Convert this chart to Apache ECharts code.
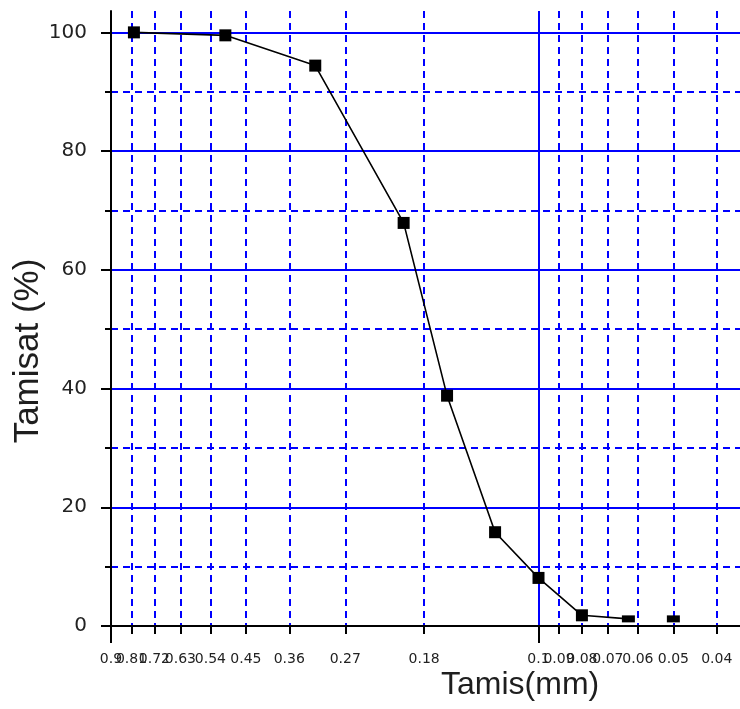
<!DOCTYPE html>
<html>
<head>
<meta charset="utf-8">
<title>Tamisat</title>
<script src="https://cdn.jsdelivr.net/npm/echarts@6/dist/echarts.min.js"></script>
<style>
  html, body { margin: 0; padding: 0; background: #fff; }
  #chart { width: 740px; height: 709px; }
</style>
</head>
<body>
<div id="chart"></div>
<script>
// Sieve openings (mm) and cumulative passing (%)
const sieveMm = [0.8, 0.5, 0.315, 0.2, 0.16, 0.125, 0.1, 0.08, 0.063, 0.05];
const passingPct = [100, 99.5, 94.4, 67.9, 38.8, 15.8, 8.1, 1.8, 1.2, 1.2];
// number of leading points joined by the curve
const curvePointCount = 9;

// x axis (log of opening, reversed): tick labels and major ticks
const xTickLabels = ['0.9', '0.81', '0.72', '0.63', '0.54', '0.45', '0.36', '0.27', '0.18',
                     '0.1', '0.09', '0.08', '0.07', '0.06', '0.05', '0.04'];
const xMajorLabels = ['0.9', '0.1'];
const xRangeMm = [0.0355, 0.9];

// y axis
const yTicks = [0, 20, 40, 60, 80, 100];
const yMax = 103.6;

const BLUE = '#0000ff';
const lg = v => Math.log10(v);
const xTickVals = xTickLabels.map(s => lg(Number(s)));
const xMajorVals = xMajorLabels.map(s => lg(Number(s)));
// alternate labels go on the two stacked x axes so that crowded neighbours all stay visible
const xLabelsA = xTickVals.filter((v, i) => i % 2 === 0);
const xLabelsB = xTickVals.filter((v, i) => i % 2 === 1);

const points = sieveMm.map((d, i) => [lg(d), passingPct[i]]);

const chart = echarts.init(document.getElementById('chart'), null, { renderer: 'canvas' });

const xLabelStyle = customValues => ({
  show: true,
  customValues: customValues,
  showMinLabel: true,
  showMaxLabel: true,
  hideOverlap: false,
  margin: 26,
  fontFamily: 'DejaVu Sans',
  fontSize: 14,
  color: '#222',
  formatter: v => {
    let best = '', bd = Infinity;
    xTickVals.forEach((t, i) => { const d = Math.abs(t - v); if (d < bd) { bd = d; best = xTickLabels[i]; } });
    return best;
  }
});

const xCommon = {
  type: 'value',
  inverse: true,
  min: lg(xRangeMm[0]),
  max: lg(xRangeMm[1]),
  position: 'bottom',
  gridIndex: 0
};

chart.setOption({
  animation: false,
  backgroundColor: '#ffffff',
  grid: { left: 111, right: 0, top: 11, bottom: 83, containLabel: false },
  title: {
    text: 'Tamis(mm)',
    left: 441,
    top: 669,
    padding: 0,
    textStyle: { fontFamily: 'Liberation Sans', fontSize: 32, fontWeight: 'normal', color: '#1e1e1e' }
  },
  graphic: [{
    type: 'text',
    x: 28,
    y: 351,
    rotation: Math.PI / 2,
    style: {
      text: 'Tamisat (%)',
      align: 'center',
      verticalAlign: 'middle',
      font: '35px "Liberation Sans"',
      fill: '#1e1e1e'
    }
  }],
  xAxis: [
    Object.assign({}, xCommon, {
      axisLine: { show: true, onZero: false, lineStyle: { color: '#000', width: 2 } },
      axisTick: { show: true, customValues: xTickVals, length: 8, lineStyle: { color: '#000', width: 2 } },
      axisLabel: xLabelStyle(xLabelsA),
      splitLine: {
        show: true,
        lineStyle: {
          color: xTickLabels.map((s, i) => i === 0 ? 'rgba(0,0,0,0)' : BLUE),
          width: 2,
          type: [7, 5]
        }
      }
    }),
    Object.assign({}, xCommon, {
      axisLine: { show: false, onZero: false },
      axisTick: { show: true, customValues: xMajorVals, length: 17, lineStyle: { color: '#000', width: 2 } },
      axisLabel: xLabelStyle(xLabelsB),
      splitLine: {
        show: true,
        lineStyle: { color: xMajorLabels.map((s, i) => i === 0 ? 'rgba(0,0,0,0)' : BLUE), width: 2, type: 'solid' }
      }
    })
  ],
  yAxis: [{
    type: 'value',
    min: 0,
    max: yMax,
    interval: 20,
    axisLine: { show: true, onZero: false, lineStyle: { color: '#000', width: 2 } },
    axisTick: { show: true, customValues: yTicks, length: 10, lineStyle: { color: '#000', width: 2 } },
    minorTick: { show: true, splitNumber: 2, length: 6, lineStyle: { color: '#000', width: 2 } },
    axisLabel: {
      margin: 24,
      fontFamily: 'DejaVu Sans',
      fontSize: 20,
      color: '#222',
      formatter: v => (yTicks.indexOf(v) >= 0 ? String(v) : '')
    },
    splitLine: {
      show: true,
      lineStyle: { color: [BLUE, BLUE, BLUE, BLUE, BLUE, BLUE, 'rgba(0,0,0,0)'], width: 2, type: 'solid' }
    },
    minorSplitLine: { show: true, lineStyle: { color: BLUE, width: 2, type: [7, 5] } }
  }],
  series: [
    {
      type: 'line',
      xAxisIndex: 0,
      yAxisIndex: 0,
      data: points.slice(0, curvePointCount),
      showSymbol: false,
      lineStyle: { color: '#000', width: 1.6 },
      z: 3
    },
    {
      type: 'scatter',
      xAxisIndex: 0,
      yAxisIndex: 0,
      data: points,
      symbol: 'rect',
      symbolSize: v => (v[1] < 1.5 ? [13, 7] : 12),
      itemStyle: { color: '#000', opacity: 1 },
      z: 4
    }
  ]
});
</script>
</body>
</html>
